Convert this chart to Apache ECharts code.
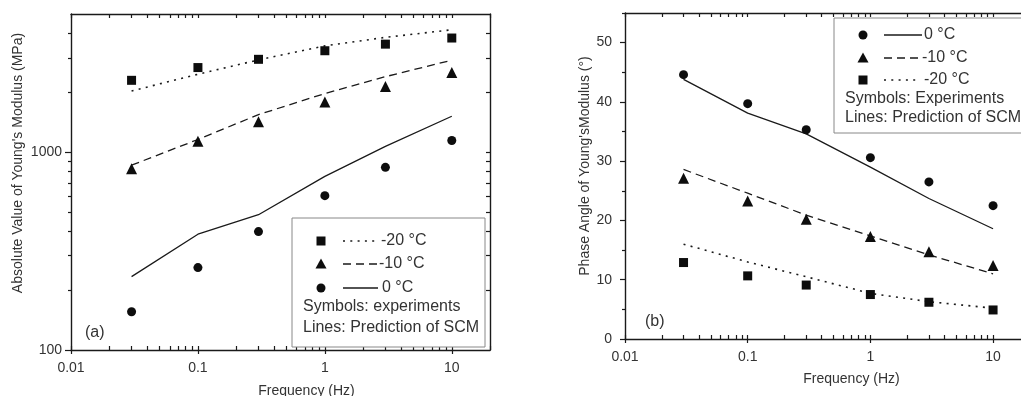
<!DOCTYPE html>
<html>
<head>
<meta charset="utf-8">
<script src="https://cdn.jsdelivr.net/npm/echarts@6/dist/echarts.min.js"></script>
<style>
html,body{margin:0;padding:0;background:#fff;}
#chart{width:1021px;height:396px;}
</style>
</head>
<body>
<div id="chart"></div>
<script>
// ---- data ----
const freq = [0.03, 0.1, 0.3, 1, 3, 10];
// Panel (a): absolute value of Young's modulus (MPa)
const modExpM20 = [2310, 2680, 2950, 3260, 3520, 3780];
const modScmM20 = [2040, 2480, 2930, 3450, 3810, 4160];
const modExpM10 = [826, 1137, 1427, 1795, 2150, 2530];
const modScmM10 = [860, 1160, 1550, 1980, 2410, 2920];
const modExp0 = [156, 261, 397, 603, 839, 1146];
const modScm0 = [235, 385, 483, 755, 1070, 1520];
// Panel (b): phase angle (deg)
const phaseExp0 = [44.6, 39.7, 35.3, 30.6, 26.5, 22.5];
const phaseScm0 = [43.8, 38.1, 34.6, 29.0, 23.7, 18.6];
const phaseExpM10 = [27.1, 23.3, 20.2, 17.3, 14.7, 12.4];
const phaseScmM10 = [28.6, 24.6, 20.9, 17.4, 14.2, 11.0];
const phaseExpM20 = [12.9, 10.65, 9.1, 7.5, 6.2, 4.9];
const phaseScmM20 = [16.0, 13.0, 10.5, 7.7, 6.3, 5.2];
// ticks
const freqTicks = [0.01, 0.1, 1, 10];
const freqMinor = [0.02,0.03,0.04,0.05,0.06,0.07,0.08,0.09,0.2,0.3,0.4,0.5,0.6,0.7,0.8,0.9,2,3,4,5,6,7,8,9,20];
const modTicks = [100, 1000];
const modMinor = [200,300,400,500,600,700,800,900,2000,3000,4000];
const phaseTicks = [0, 10, 20, 30, 40, 50];
const phaseMinor = [5, 15, 25, 35, 45, 55];

// ---- styling ----
const FONT = '"Liberation Sans", Arial, sans-serif';
const TXT = '#333';
const INK = '#1a1a1a';
const AX = {lineStyle: {color: INK, width: 1.4}};

function pairs(xs, ys) { return xs.map((x, i) => [x, ys[i]]); }
function fmt(v) { return String(+v.toPrecision(6)); }

function xAxes(grid, nameGap, pad, labelMargin) {
  return [
    { gridIndex: grid, type: 'log', logBase: 10, min: 0.01, max: 20, position: 'bottom',
      name: 'Frequency (Hz)', nameLocation: 'middle', nameGap: nameGap,
      nameTextStyle: {fontFamily: FONT, fontSize: 14, color: TXT, padding: [0, 0, 0, pad]},
      axisLine: {show: true, onZero: false, lineStyle: AX.lineStyle},
      axisTick: {show: true, inside: false, length: 4, customValues: freqTicks, lineStyle: {color: INK, width: 1.2}},
      axisLabel: {customValues: freqTicks, formatter: fmt, margin: labelMargin, fontFamily: FONT, fontSize: 14, color: TXT},
      splitLine: {show: false}, minorTick: {show: false} },
    { gridIndex: grid, type: 'log', logBase: 10, min: 0.01, max: 20, position: 'bottom',
      axisLine: {show: false, onZero: false},
      axisTick: {show: true, inside: true, length: 4, customValues: freqTicks.concat(freqMinor), lineStyle: {color: INK, width: 1.2}},
      axisLabel: {show: false}, splitLine: {show: false} },
    { gridIndex: grid, type: 'log', logBase: 10, min: 0.01, max: 20, position: 'top',
      axisLine: {show: true, onZero: false, lineStyle: AX.lineStyle},
      axisTick: {show: true, inside: true, length: 4, customValues: freqTicks.concat(freqMinor), lineStyle: {color: INK, width: 1.2}},
      axisLabel: {show: false}, splitLine: {show: false} }
  ];
}

const option = {
  animation: false,
  backgroundColor: '#fff',
  grid: [
    {left: 71, top: 14, width: 419, height: 336, containLabel: false, outerBoundsMode: 'none'},
    {left: 625, top: 13, width: 405, height: 326, containLabel: false, outerBoundsMode: 'none'}
  ],
  xAxis: xAxes(0, 34, 52, 11).concat(xAxes(1, 33, 48, 11)),
  yAxis: [
    // panel a
    { gridIndex: 0, type: 'log', logBase: 10, min: 100, max: 5000, position: 'left',
      name: "Absolute Value of Young's Modulus (MPa)", nameLocation: 'middle', nameGap: 46,
      nameTextStyle: {fontFamily: FONT, fontSize: 14, color: TXT, padding: [0, 0, 0, 38]},
      axisLine: {show: true, lineStyle: AX.lineStyle},
      axisTick: {show: true, inside: false, length: 6, customValues: modTicks, lineStyle: {color: INK, width: 1.2}},
      axisLabel: {customValues: modTicks, formatter: fmt, margin: 9, fontFamily: FONT, fontSize: 14, color: TXT},
      splitLine: {show: false} },
    { gridIndex: 0, type: 'log', logBase: 10, min: 100, max: 5000, position: 'left',
      axisLine: {show: false},
      axisTick: {show: true, inside: false, length: 3, customValues: modMinor, lineStyle: {color: INK, width: 1.2}},
      axisLabel: {show: false}, splitLine: {show: false} },
    { gridIndex: 0, type: 'log', logBase: 10, min: 100, max: 5000, position: 'right',
      axisLine: {show: true, lineStyle: AX.lineStyle},
      axisTick: {show: true, inside: true, length: 4, customValues: modMinor.concat([1000]), lineStyle: {color: INK, width: 1.2}},
      axisLabel: {show: false}, splitLine: {show: false} },
    // panel b
    { gridIndex: 1, type: 'value', min: 0, max: 55, position: 'left',
      name: "Phase Angle of Young'sModulus (°)", nameLocation: 'middle', nameGap: 33,
      nameTextStyle: {fontFamily: FONT, fontSize: 14, color: TXT, padding: [0, 0, 0, 20]},
      axisLine: {show: true, lineStyle: AX.lineStyle},
      axisTick: {show: true, inside: false, length: 5, customValues: phaseTicks, lineStyle: {color: INK, width: 1.2}},
      axisLabel: {customValues: phaseTicks, margin: 13, fontFamily: FONT, fontSize: 14, color: TXT},
      splitLine: {show: false} },
    { gridIndex: 1, type: 'value', min: 0, max: 55, position: 'left',
      axisLine: {show: false},
      axisTick: {show: true, inside: false, length: 3, customValues: phaseMinor, lineStyle: {color: INK, width: 1.2}},
      axisLabel: {show: false}, splitLine: {show: false} },
    { gridIndex: 1, type: 'value', min: 0, max: 55, position: 'right',
      axisLine: {show: true, lineStyle: AX.lineStyle},
      axisTick: {show: true, inside: true, length: 4, customValues: phaseTicks, lineStyle: {color: INK, width: 1.2}},
      axisLabel: {show: false}, splitLine: {show: false} }
  ],
  series: [],
  graphic: []
};

function lineS(xi, yi, ys, dash, w) {
  return {type: 'line', xAxisIndex: xi, yAxisIndex: yi, data: pairs(freq, ys), symbol: 'none', showSymbol: false,
    lineStyle: {color: INK, width: w, type: dash}, z: 3, silent: true};
}
function pts(xi, yi, ys, sym, size) {
  return {type: 'scatter', xAxisIndex: xi, yAxisIndex: yi, data: pairs(freq, ys), symbol: sym, symbolSize: size,
    itemStyle: {color: '#0d0d0d', opacity: 1}, z: 4, silent: true};
}
const DOT = [2, 5.3], DASH = [8, 5];
option.series.push(
  lineS(0, 0, modScmM20, DOT, 1.6), lineS(0, 0, modScmM10, DASH, 1.3), lineS(0, 0, modScm0, 'solid', 1.3),
  pts(0, 0, modExpM20, 'rect', 9), pts(0, 0, modExpM10, 'triangle', 11), pts(0, 0, modExp0, 'circle', 9),
  lineS(3, 3, phaseScm0, 'solid', 1.3), lineS(3, 3, phaseScmM10, DASH, 1.3), lineS(3, 3, phaseScmM20, DOT, 1.6),
  pts(3, 3, phaseExp0, 'circle', 9), pts(3, 3, phaseExpM10, 'triangle', 11), pts(3, 3, phaseExpM20, 'rect', 9)
);

// ---- legends (decoration) ----
function txt(x, y, s) {
  return {type: 'text', x: x, y: y, z: 20, style: {text: s, font: '16px ' + FONT, fill: TXT, textVerticalAlign: 'middle', verticalAlign: 'middle'}};
}
function sym(kind, cx, cy) {
  const st = {fill: '#0d0d0d'};
  if (kind === 'rect') return {type: 'rect', z: 20, shape: {x: cx - 4.5, y: cy - 4.5, width: 9, height: 9}, style: st};
  if (kind === 'circle') return {type: 'circle', z: 20, shape: {cx: cx, cy: cy, r: 4.5}, style: st};
  return {type: 'polygon', z: 20, shape: {points: [[cx, cy - 5.5], [cx + 5.5, cy + 4.5], [cx - 5.5, cy + 4.5]]}, style: st};
}
function seg(x1, x2, y, dash, w) {
  return {type: 'line', z: 20, shape: {x1: x1, y1: y, x2: x2, y2: y}, style: {stroke: INK, lineWidth: w, lineDash: dash === 'solid' ? null : dash}};
}
option.graphic.push(
  {type: 'rect', z: 19, shape: {x: 292, y: 218, width: 193, height: 129}, style: {fill: '#fff', stroke: '#888', lineWidth: 1}},
  sym('rect', 321, 241), seg(343, 377, 241, DOT, 1.6), txt(381, 241, '-20 °C'),
  sym('tri', 321, 264), seg(343, 377, 264, DASH, 1.3), txt(379, 264, '-10 °C'),
  sym('circle', 321, 288), seg(343, 378, 288, 'solid', 1.3), txt(382, 288, '0 °C'),
  txt(303, 307, 'Symbols: experiments'),
  txt(303, 328, 'Lines: Prediction of SCM'),
  {type: 'text', x: 85, y: 333, z: 20, style: {text: '(a)', font: '16px ' + FONT, fill: TXT, verticalAlign: 'middle'}},

  {type: 'rect', z: 19, shape: {x: 834, y: 18, width: 200, height: 115}, style: {fill: '#fff', stroke: '#888', lineWidth: 1}},
  sym('circle', 863, 35), seg(884, 922, 35, 'solid', 1.3), txt(924, 35, '0 °C'),
  sym('tri', 863, 58), seg(884, 920, 58, DASH, 1.3), txt(922, 58, '-10 °C'),
  sym('rect', 863, 80), seg(884, 920, 80, DOT, 1.6), txt(924, 80, '-20 °C'),
  txt(845, 99, 'Symbols: Experiments'),
  txt(845, 118, 'Lines: Prediction of SCM'),
  {type: 'text', x: 645, y: 322, z: 20, style: {text: '(b)', font: '16px ' + FONT, fill: TXT, verticalAlign: 'middle'}}
);

const chart = echarts.init(document.getElementById('chart'), null, {renderer: 'canvas'});
chart.setOption(option);
</script>
</body>
</html>
